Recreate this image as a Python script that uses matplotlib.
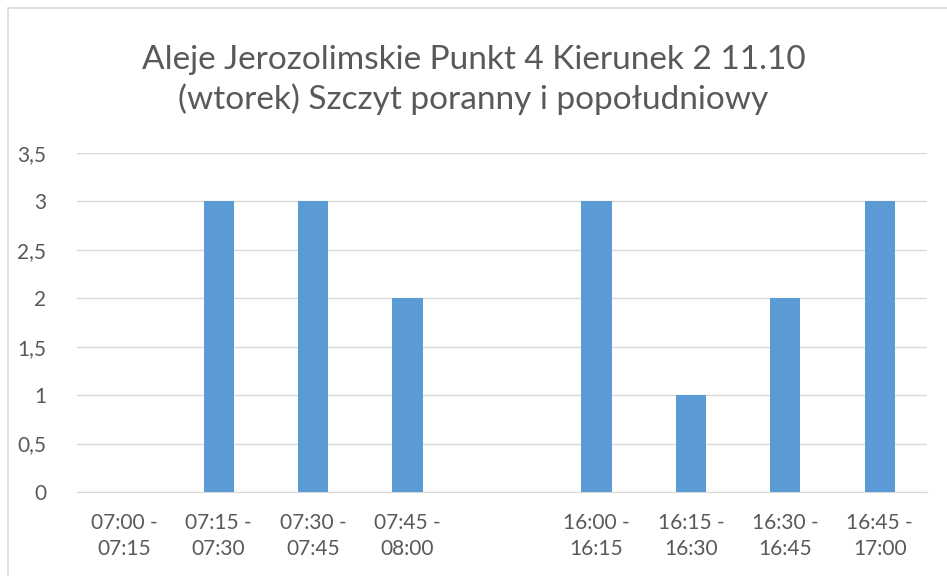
import matplotlib.pyplot as plt
import numpy as np
from matplotlib.patches import Rectangle

categories = ["07:00 -\n07:15", "07:15 -\n07:30", "07:30 -\n07:45", "07:45 -\n08:00", "",
              "16:00 -\n16:15", "16:15 -\n16:30", "16:30 -\n16:45", "16:45 -\n17:00"]
values = [0, 3, 3, 2, np.nan, 3, 1, 2, 3]
yticks = [0, 0.5, 1, 1.5, 2, 2.5, 3, 3.5]
ytick_labels = ["0", "0,5", "1", "1,5", "2", "2,5", "3", "3,5"]

plt.rcParams['font.family'] = ['Lato', 'DejaVu Sans']
text_color = "#595959"

fig = plt.figure(figsize=(9.47, 5.76), dpi=100)
ax = fig.add_axes([77 / 947, 1 - 492 / 576, (927 - 77) / 947, (492 - 153) / 576])

x = np.arange(len(categories))
ax.bar(x, values, width=0.32, color="#5b9bd5", zorder=3)

ax.set_xlim(-0.5, len(categories) - 0.5)
ax.set_ylim(0, 3.5)
ax.set_yticks(yticks)
ax.set_yticklabels(ytick_labels)
ax.set_xticks(x)
ax.set_xticklabels(categories)
ax.grid(axis="y", color="#d9d9d9", linewidth=1, zorder=0)
for s in ["top", "right", "left"]:
    ax.spines[s].set_visible(False)
ax.spines["bottom"].set_color("#d9d9d9")
ax.tick_params(length=0, labelcolor=text_color, labelsize=15)
ax.tick_params(axis="y", pad=22)
ax.tick_params(axis="x", pad=15)
for lbl in ax.get_xticklabels():
    lbl.set_linespacing(1.4)

fig.text(0.5, 1 - 80 / 576, "Aleje Jerozolimskie Punkt 4 Kierunek 2 11.10\n(wtorek) Szczyt poranny i popołudniowy",
         ha="center", va="center", fontsize=24, color=text_color, linespacing=1.3)

# chart frame
fig.patches.append(Rectangle((8 / 947, -0.1), 1.2, 1.1 - 8 / 576, transform=fig.transFigure,
                             fill=False, edgecolor="#d9d9d9", linewidth=1.2))

fig.savefig("out.png", dpi=100)
